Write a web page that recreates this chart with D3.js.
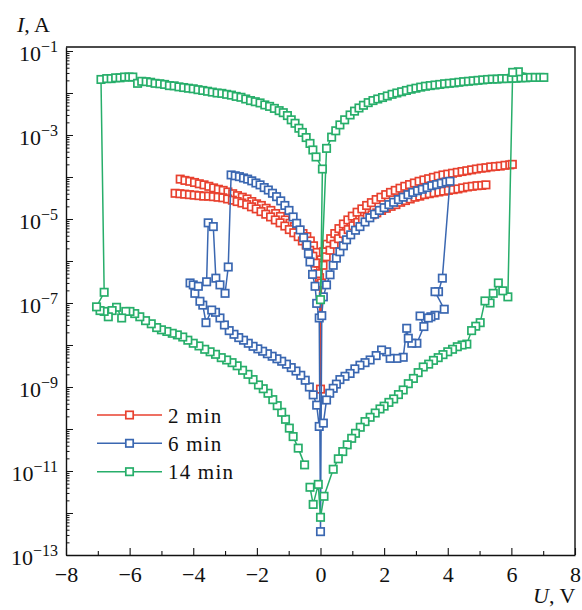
<!DOCTYPE html>
<html>
<head>
<meta charset="utf-8">
<script src="https://cdn.jsdelivr.net/npm/d3@7"></script>
<style>
  body { margin: 0; background: #fff; }
  text { font-family: "Liberation Serif", "Times New Roman", serif; fill: #111; }
</style>
</head>
<body>
<svg id="chart" width="582" height="610"></svg>
<script>
const seriesNames = ["2 min", "6 min", "14 min"];
const seriesColors = ["#e8412f", "#3a67b1", "#27ae6a"];
const xTickLabels = [-8, -6, -4, -2, 0, 2, 4, 6, 8];
const yTickExps = [-1, -3, -5, -7, -9, -11, -13];

// 2 min, sweep 1: upper left branch, drop at 0, upper right branch  [U (V), I (A)]
const red1 = [
  [-4.41,8.9e-5],[-4.26,8.3e-5],[-4.11,7.9e-5],[-3.96,7.4e-5],[-3.81,6.9e-5],[-3.66,6.5e-5],
  [-3.51,6.0e-5],[-3.36,5.5e-5],[-3.21,5.1e-5],[-3.06,4.8e-5],[-2.91,4.4e-5],[-2.76,4.0e-5],
  [-2.61,3.6e-5],[-2.46,3.3e-5],[-2.31,3.0e-5],[-2.16,2.6e-5],[-2.01,2.3e-5],[-1.86,2.1e-5],
  [-1.71,1.8e-5],[-1.56,1.6e-5],[-1.41,1.35e-5],[-1.26,1.15e-5],[-1.11,9.5e-6],[-0.96,7.9e-6],
  [-0.82,6.6e-6],[-0.68,5.4e-6],[-0.55,4.5e-6],[-0.43,3.8e-6],[-0.32,3.0e-6],[-0.22,2.3e-6],
  [-0.13,1.6e-6],[-0.06,8.9e-7],[-0.03,4.0e-7],
  [0.00,8.9e-10],
  [0.03,3.0e-7],[0.09,1.66e-6],[0.20,2.5e-6],[0.32,3.4e-6],[0.45,4.5e-6],[0.58,5.9e-6],
  [0.72,7.6e-6],[0.86,9.5e-6],[1.00,1.17e-5],[1.15,1.45e-5],[1.30,1.74e-5],[1.45,2.1e-5],
  [1.60,2.45e-5],[1.75,2.9e-5],[1.90,3.3e-5],[2.05,3.8e-5],[2.20,4.3e-5],[2.35,4.8e-5],
  [2.50,5.4e-5],[2.65,6.0e-5],[2.80,6.6e-5],[2.95,7.2e-5],[3.10,7.9e-5],[3.25,8.5e-5],
  [3.40,9.1e-5],[3.55,9.8e-5],[3.70,1.05e-4],[3.85,1.12e-4],[4.00,1.17e-4],[4.15,1.23e-4],
  [4.30,1.29e-4],[4.45,1.35e-4],[4.60,1.41e-4],[4.75,1.48e-4],[4.90,1.55e-4],[5.05,1.62e-4],
  [5.20,1.66e-4],[5.35,1.74e-4],[5.50,1.78e-4],[5.65,1.82e-4],[5.80,1.9e-4],[5.95,1.95e-4],
  [6.03,2.0e-4]
];

// 2 min, sweep 2: lower left branch and lower right branch
const red2 = [
  [-4.57,4.1e-5],[-4.42,4.0e-5],[-4.27,3.9e-5],[-4.12,3.8e-5],[-3.97,3.7e-5],[-3.82,3.6e-5],
  [-3.67,3.5e-5],[-3.52,3.5e-5],[-3.37,3.4e-5],[-3.22,3.3e-5],[-3.07,3.2e-5],[-2.92,3.0e-5],
  [-2.77,2.8e-5],[-2.62,2.6e-5],[-2.47,2.4e-5],[-2.32,2.2e-5],[-2.17,1.95e-5],[-2.02,1.74e-5],
  [-1.87,1.5e-5],[-1.72,1.3e-5],[-1.57,1.12e-5],[-1.42,9.5e-6],[-1.27,8.1e-6],[-1.12,6.8e-6],
  [-0.98,5.6e-6],[-0.84,4.7e-6],[-0.70,3.8e-6],[-0.57,3.0e-6],[-0.45,2.4e-6],[-0.34,1.8e-6],
  [-0.24,1.3e-6],[-0.15,8.9e-7],[-0.08,5.0e-7],
  [0.08,7.9e-7],[0.18,1.26e-6],[0.30,1.8e-6],[0.43,2.5e-6],[0.57,3.4e-6],[0.72,4.5e-6],
  [0.87,5.6e-6],[1.02,6.9e-6],[1.17,8.3e-6],[1.32,9.8e-6],[1.47,1.12e-5],[1.62,1.26e-5],
  [1.77,1.4e-5],[1.92,1.6e-5],[2.07,1.8e-5],[2.22,2.0e-5],[2.37,2.2e-5],[2.52,2.5e-5],
  [2.67,2.75e-5],[2.82,3.0e-5],[2.97,3.3e-5],[3.12,3.5e-5],[3.27,3.8e-5],[3.42,4.0e-5],
  [3.57,4.2e-5],[3.72,4.4e-5],[3.87,4.6e-5],[4.02,4.8e-5],[4.17,5.0e-5],[4.32,5.2e-5],
  [4.47,5.5e-5],[4.62,5.8e-5],[4.77,6.0e-5],[4.92,6.2e-5],[5.07,6.3e-5],[5.20,6.5e-5]
];

// 6 min: one continuous sweep
const blue1 = [
  [-0.04,1.15e-10],[-0.12,3.7e-10],[-0.23,6.5e-10],[-0.35,1.0e-9],[-0.48,1.45e-9],[-0.62,1.9e-9],
  [-0.77,2.4e-9],[-0.92,2.9e-9],[-1.07,3.5e-9],[-1.22,4.1e-9],[-1.37,4.7e-9],[-1.52,5.4e-9],
  [-1.67,6.2e-9],[-1.82,7.1e-9],[-1.97,8.1e-9],[-2.12,9.3e-9],[-2.27,1.1e-8],[-2.42,1.3e-8],
  [-2.57,1.5e-8],[-2.72,1.8e-8],[-2.87,2.2e-8],[-3.02,3.0e-8],[-3.16,4.4e-8],[-3.30,6.0e-8],
  [-3.42,6.8e-8],[-3.60,3.4e-8],[-3.70,8.9e-8],[-3.79,1.1e-7],[-3.95,1.7e-7],[-4.10,3.0e-7],
  [-4.00,2.7e-7],[-3.84,2.5e-7],[-3.58,3.2e-7],
  [-3.53,8.1e-6],[-3.37,6.6e-6],
  [-3.29,3.9e-7],[-3.16,2.7e-7],[-3.00,1.7e-7],[-2.90,7.2e-7],
  [-2.81,1.12e-4],[-2.68,1.07e-4],[-2.55,1.02e-4],[-2.42,9.5e-5],[-2.29,8.9e-5],[-2.16,8.1e-5],
  [-2.03,7.2e-5],[-1.90,6.5e-5],[-1.77,5.6e-5],[-1.64,4.9e-5],[-1.51,4.1e-5],[-1.38,3.4e-5],
  [-1.25,2.7e-5],[-1.12,2.1e-5],[-0.99,1.6e-5],[-0.86,1.12e-5],[-0.75,7.9e-6],[-0.64,5.5e-6],
  [-0.53,3.6e-6],[-0.43,2.4e-6],[-0.38,1.5e-6],[-0.33,9.5e-7],[-0.25,4.8e-7],[-0.17,2.5e-7],
  [-0.12,9.8e-8],[-0.04,4.4e-8],
  [0.00,3.6e-13],
  [0.04,5.0e-8],[0.09,1.4e-7],[0.19,2.7e-7],[0.30,4.7e-7],[0.40,7.9e-7],[0.50,1.17e-6],
  [0.61,1.66e-6],[0.72,2.3e-6],[0.82,3.2e-6],[0.95,4.2e-6],[1.10,5.4e-6],[1.24,6.6e-6],
  [1.40,8.5e-6],[1.55,1.07e-5],[1.70,1.3e-5],[1.85,1.6e-5],[2.00,1.86e-5],[2.15,2.2e-5],
  [2.30,2.5e-5],[2.45,2.9e-5],[2.60,3.3e-5],[2.75,3.8e-5],[2.90,4.3e-5],[3.05,4.7e-5],
  [3.20,5.1e-5],[3.35,5.6e-5],[3.50,6.2e-5],[3.65,6.6e-5],[3.80,7.1e-5],[3.95,7.6e-5],
  [4.07,7.9e-5],
  [3.83,3.9e-7],[3.71,1.86e-7],[3.60,1.86e-7],[3.89,7.1e-8],[3.60,5.1e-8],[3.47,4.7e-8],
  [3.39,4.4e-8],[3.13,4.9e-8],[3.25,2.75e-8],[3.03,1.1e-8],[2.87,1.1e-8],[2.76,1.45e-8],
  [2.71,2.5e-8],[2.60,5.1e-9],[2.40,4.8e-9],[2.19,4.8e-9],[2.08,6.9e-9],[1.92,7.6e-9],
  [1.75,5.6e-9],[1.56,4.4e-9],[1.40,3.8e-9],[1.24,3.3e-9],[1.08,2.7e-9],[0.93,2.1e-9],
  [0.77,1.8e-9],[0.61,1.5e-9],[0.50,1.17e-9],[0.40,9.3e-10],[0.29,7.1e-10],[0.19,4.9e-10],
  [0.09,1.38e-10]
];

// 14 min: one continuous sweep
const green1 = [
  [-0.50,1.4e-11],[-0.70,3.5e-11],[-0.86,6.6e-11],[-0.98,1.05e-10],[-1.10,1.7e-10],[-1.22,2.5e-10],
  [-1.36,3.6e-10],[-1.50,5.0e-10],[-1.65,7.1e-10],[-1.80,9.1e-10],[-1.95,1.12e-9],[-2.12,1.5e-9],
  [-2.28,2.0e-9],[-2.45,2.5e-9],[-2.62,3.2e-9],[-2.78,3.8e-9],[-2.95,4.4e-9],[-3.12,5.0e-9],
  [-3.30,6.0e-9],[-3.47,6.9e-9],[-3.64,7.9e-9],[-3.82,9.5e-9],[-4.00,1.1e-8],[-4.17,1.3e-8],
  [-4.33,1.55e-8],[-4.50,1.74e-8],[-4.66,1.9e-8],[-4.83,2.1e-8],[-5.00,2.3e-8],[-5.15,2.6e-8],
  [-5.32,3.2e-8],[-5.50,3.8e-8],[-5.68,4.7e-8],[-5.84,5.6e-8],[-5.99,6.3e-8],[-6.12,6.3e-8],
  [-6.25,4.4e-8],[-6.41,7.9e-8],[-6.55,6.6e-8],[-6.67,4.7e-8],[-6.80,6.3e-8],[-6.93,6.6e-8],
  [-7.04,8.1e-8],[-6.80,1.8e-7],
  [-6.90,2.1e-2],[-6.72,2.2e-2],[-6.58,2.2e-2],[-6.44,2.3e-2],[-6.30,2.3e-2],[-6.16,2.4e-2],
  [-6.02,2.4e-2],[-5.90,2.4e-2],[-5.75,1.7e-2],[-5.62,1.9e-2],[-5.48,1.86e-2],[-5.34,1.8e-2],
  [-5.20,1.7e-2],[-5.05,1.66e-2],[-4.90,1.6e-2],[-4.75,1.5e-2],[-4.60,1.48e-2],[-4.45,1.4e-2],
  [-4.30,1.35e-2],[-4.15,1.3e-2],[-4.00,1.26e-2],[-3.85,1.2e-2],[-3.70,1.15e-2],[-3.55,1.1e-2],
  [-3.40,1.05e-2],[-3.25,1.0e-2],[-3.10,9.8e-3],[-2.95,9.3e-3],[-2.80,8.9e-3],[-2.65,8.3e-3],
  [-2.50,7.9e-3],[-2.35,7.2e-3],[-2.20,6.6e-3],[-2.05,6.2e-3],[-1.90,5.8e-3],[-1.75,5.2e-3],
  [-1.60,4.8e-3],[-1.45,4.3e-3],[-1.30,3.8e-3],[-1.17,3.4e-3],[-1.04,2.9e-3],[-0.92,2.3e-3],
  [-0.80,1.9e-3],[-0.68,1.45e-3],[-0.57,1.15e-3],[-0.45,8.7e-4],[-0.33,6.3e-4],[-0.24,4.4e-4],
  [-0.14,3.0e-4],[0.06,1.55e-4],
  [0.00,1.2e-7],
  [0.19,4.8e-4],[0.35,8.9e-4],[0.48,1.26e-3],[0.61,1.74e-3],[0.76,2.3e-3],[0.93,3.0e-3],
  [1.07,3.7e-3],[1.21,4.4e-3],[1.35,5.1e-3],[1.50,5.9e-3],[1.65,6.6e-3],[1.80,7.2e-3],
  [1.95,7.8e-3],[2.10,8.5e-3],[2.25,9.3e-3],[2.40,1.0e-2],[2.55,1.07e-2],[2.70,1.15e-2],
  [2.85,1.23e-2],[3.00,1.3e-2],[3.15,1.38e-2],[3.30,1.45e-2],[3.45,1.5e-2],[3.60,1.55e-2],
  [3.75,1.6e-2],[3.90,1.66e-2],[4.05,1.7e-2],[4.20,1.74e-2],[4.35,1.8e-2],[4.50,1.86e-2],
  [4.65,1.9e-2],[4.80,1.95e-2],[4.95,2.0e-2],[5.10,2.05e-2],[5.25,2.1e-2],[5.40,2.14e-2],
  [5.55,2.14e-2],[5.70,2.2e-2],[5.85,2.2e-2],[6.00,2.24e-2],[6.15,2.24e-2],[6.30,2.3e-2],
  [6.45,2.3e-2],[6.60,2.35e-2],[6.75,2.35e-2],[6.90,2.35e-2],[7.02,2.35e-2],
  [6.22,3.2e-2],[6.04,3.1e-2],
  [5.89,1.4e-7],[5.73,1.95e-7],[5.59,3.0e-7],[5.43,1.7e-7],[5.33,1.0e-7],[5.17,1.12e-7],
  [5.02,3.4e-8],[4.88,2.8e-8],[4.75,2.2e-8],[4.60,1.05e-8],[4.45,1.0e-8],[4.30,9.1e-9],
  [4.15,7.9e-9],[4.00,6.9e-9],[3.85,5.9e-9],[3.70,5.0e-9],[3.55,4.3e-9],[3.40,3.5e-9],
  [3.23,3.0e-9],[3.07,2.2e-9],[2.92,1.6e-9],[2.76,1.2e-9],[2.60,8.5e-10],[2.45,6.6e-10],
  [2.30,5.2e-10],[2.15,4.3e-10],[2.00,3.5e-10],[1.87,3.0e-10],[1.72,2.4e-10],[1.56,1.9e-10],
  [1.40,1.5e-10],[1.25,1.1e-10],[1.10,7.9e-11],[0.98,6.0e-11],[0.84,4.2e-11],[0.70,2.9e-11],
  [0.56,1.95e-11],[0.40,1.1e-11],[0.11,2.5e-12],[0.00,7.9e-13],[-0.07,4.8e-12],[-0.23,1.6e-12],
  [-0.33,4.1e-12]
];

const seriesPaths = [[red1, red2], [blue1], [green1]];

const svg = d3.select("#chart");
const mLeft = 66, mRight = 575, mTop = 47, mBottom = 555;

const x = d3.scaleLinear().domain([-8, 8]).range([mLeft, mRight]);
const y = d3.scaleLog().domain([1e-13, 0.1245]).range([mBottom, mTop]);

// frame (top + right)
svg.append("path")
  .attr("d", `M${mLeft},${mTop}H${mRight}V${mBottom}`)
  .attr("fill", "none")
  .attr("stroke", "#111")
  .attr("stroke-width", 1.4);

// x axis: ticks inward, minor at odd volts
const gx = svg.append("g")
  .attr("transform", `translate(0,${mBottom})`)
  .call(d3.axisBottom(x)
    .tickValues(d3.range(-8, 9))
    .tickSizeInner(-7)
    .tickSizeOuter(0)
    .tickPadding(11)
    .tickFormat(d => xTickLabels.includes(d) ? d3.format("")(d) : ""));
gx.select(".domain").attr("stroke", "#111").attr("stroke-width", 1.4);
gx.selectAll(".tick line").attr("stroke", "#111").attr("stroke-width", 1.1)
  .attr("y2", d => d % 2 === 0 ? -7 : -4);
gx.selectAll(".tick text").attr("font-size", 22).attr("font-family", null).attr("fill", "#111");

// y axis: log ticks, decades long, 2..9 short
const yTickVals = [];
for (let e = -13; e <= -2; e++) for (let m = 1; m <= 9; m++) yTickVals.push(m * Math.pow(10, e));
yTickVals.push(1e-1);
const isDecade = d => Math.abs(Math.log10(d) - Math.round(Math.log10(d))) < 1e-6;

const gy = svg.append("g")
  .attr("transform", `translate(${mLeft},0)`)
  .call(d3.axisLeft(y).tickValues(yTickVals).tickSizeInner(-7).tickSizeOuter(0).tickFormat(""));
gy.select(".domain").attr("stroke", "#111").attr("stroke-width", 1.4);
gy.selectAll(".tick line").attr("stroke", "#111").attr("stroke-width", 1)
  .attr("x2", d => isDecade(d) ? 7 : 3.5);

const yLab = svg.append("g").selectAll("text").data(yTickExps).join("text")
  .attr("x", 58)
  .attr("y", d => y(Math.pow(10, d)) + 10)
  .attr("text-anchor", "end");
yLab.append("tspan").attr("font-size", 22).text("10");
yLab.append("tspan").attr("font-size", 16).attr("dy", -9).text(d => "\u2212" + Math.abs(d));

// axis titles
const yt = svg.append("text").attr("x", 17).attr("y", 32).attr("font-size", 22);
yt.append("tspan").attr("font-style", "italic").text("I");
yt.append("tspan").text(", A");
const xt = svg.append("text").attr("x", 533).attr("y", 603).attr("font-size", 22);
xt.append("tspan").attr("font-style", "italic").text("U");
xt.append("tspan").text(", V");

// series
const line = d3.line().x(d => x(d[0])).y(d => y(d[1]));
const ms = 7.4;

seriesPaths.forEach((paths, i) => {
  const g = svg.append("g");
  paths.forEach(p => {
    g.append("path")
      .attr("d", line(p))
      .attr("fill", "none")
      .attr("stroke", seriesColors[i])
      .attr("stroke-width", 1.5);
  });
  paths.forEach(p => {
    g.append("g").selectAll("rect").data(p).join("rect")
      .attr("x", d => x(d[0]) - ms / 2)
      .attr("y", d => y(d[1]) - ms / 2)
      .attr("width", ms)
      .attr("height", ms)
      .attr("fill", "#fff")
      .attr("stroke", seriesColors[i])
      .attr("stroke-width", 1.7);
  });
});

// legend
const legRows = [415, 443.3, 471.7];
const leg = svg.append("g").selectAll("g").data(seriesNames).join("g")
  .attr("transform", (d, i) => `translate(0,${legRows[i]})`);
leg.append("line")
  .attr("x1", 97).attr("x2", 162)
  .attr("stroke", (d, i) => seriesColors[i])
  .attr("stroke-width", 1.5);
leg.append("rect")
  .attr("x", 129.5 - ms / 2).attr("y", -ms / 2)
  .attr("width", ms).attr("height", ms)
  .attr("fill", "#fff")
  .attr("stroke", (d, i) => seriesColors[i])
  .attr("stroke-width", 1.7);
leg.append("text")
  .attr("x", 168).attr("y", 7.5)
  .attr("font-size", 21)
  .attr("letter-spacing", 1.2)
  .text(d => d);
</script>
</body>
</html>
